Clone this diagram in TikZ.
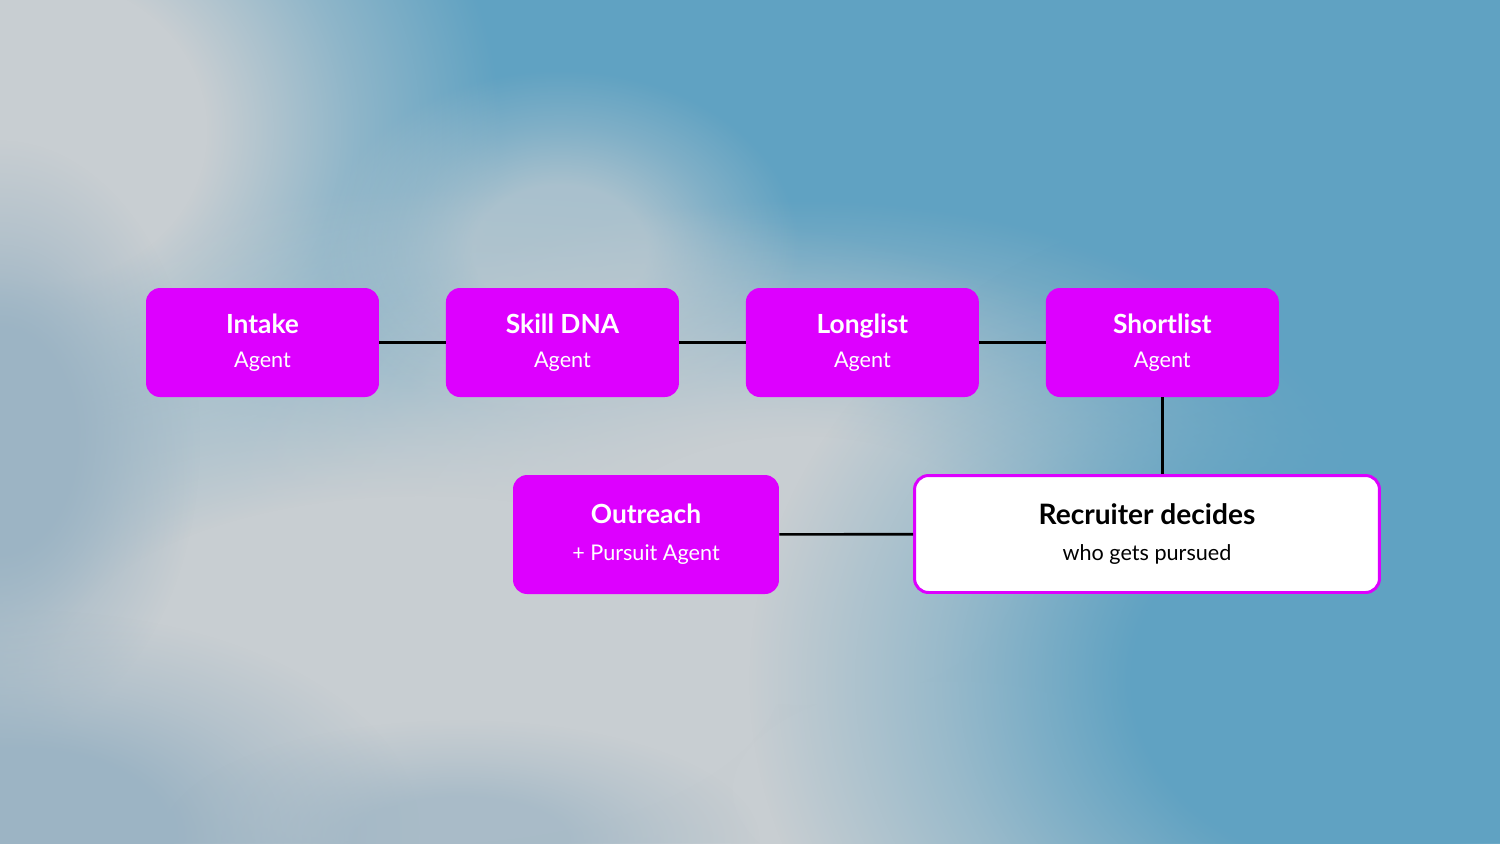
\documentclass[tikz,border=0pt]{standalone}
\usepackage{fontspec}
\setmainfont{Lato}
\usetikzlibrary{positioning,fadings}
\definecolor{agentmag}{HTML}{DD00FF}
\definecolor{skyblue}{HTML}{60A2C2}
\definecolor{fogrey}{HTML}{C8CED2}
\definecolor{dimblue}{HTML}{9CB4C4}
\pgfdeclareradialshading{blobshade}{\pgfpoint{0bp}{0bp}}{color(0bp)=(white); color(9bp)=(white); color(17bp)=(white!45!black); color(25bp)=(black); color(50bp)=(black)}
\pgfdeclarefading{blob}{\pgfuseshading{blobshade}}
\newcommand{\boxtitle}[1]{{\fontsize{15}{19}\selectfont\bfseries #1}}

\begin{document}
\begin{tikzpicture}[x=0.02cm, y=-0.02cm, node distance=6cm, on grid,
    agent/.style={rectangle, rounded corners=0.28cm, fill=agentmag, text=white,
      minimum width=4.66cm, minimum height=2.18cm, align=center, inner sep=0pt,
      font=\fontsize{12.3}{19}\selectfont},
    decision/.style={agent, fill=white, draw=agentmag, line width=1.7pt, text=black},
    link/.style={line width=1.5pt, black}]

  % Background
  \useasboundingbox (0,0) rectangle (1500,843);
  \fill[skyblue] (0,0) rectangle (1500,843);
  \begin{scope}
    \clip (0,0) rectangle (1500,843);
    \fill[fogrey, path fading=blob] (40,130) ellipse (460 and 420);
    \fill[fogrey, path fading=blob] (420,670) ellipse (1000 and 480);
    \fill[fogrey, path fading=blob] (800,570) ellipse (600 and 370);
    \fill[fogrey, path fading=blob, fill opacity=0.7] (560,250) ellipse (240 and 180);
    \fill[fogrey, path fading=blob] (950,790) ellipse (600 and 300);
    \fill[dimblue, path fading=blob] (0,440) ellipse (200 and 300);
    \fill[dimblue, path fading=blob] (20,830) ellipse (400 and 220);
    \fill[dimblue, path fading=blob, fill opacity=0.7] (460,840) ellipse (300 and 120);
    \fill[skyblue, path fading=blob] (1350,680) ellipse (600 and 500);
  \end{scope}

  % Agent pipeline
  \node[agent] (intake) at (262.5,342.5) {\boxtitle{Intake}\\Agent};
  \node[agent] (skill) [right=of intake] {\boxtitle{Skill DNA}\\Agent};
  \node[agent] (long) [right=of skill] {\boxtitle{Longlist}\\Agent};
  \node[agent] (short) [right=of long] {\boxtitle{Shortlist}\\Agent};

  % Outreach and the recruiter step
  \node[agent, minimum width=5.32cm, minimum height=2.38cm] (outreach) at (646,534.5)
    {\boxtitle{Outreach}\\[2pt]+ Pursuit Agent};
  \node[decision, minimum width=9.3cm, minimum height=2.34cm] (recruiter) at (1147,534)
    {{\fontsize{16}{20}\selectfont\bfseries Recruiter decides}\\[1pt]who gets pursued};

  % Connectors
  \path[link]
    (intake) edge (skill)
    (skill) edge (long)
    (long) edge (short)
    (outreach) edge (recruiter);
  \draw[link] (short.south) -- (short.south |- recruiter.north);

\end{tikzpicture}
\end{document}
